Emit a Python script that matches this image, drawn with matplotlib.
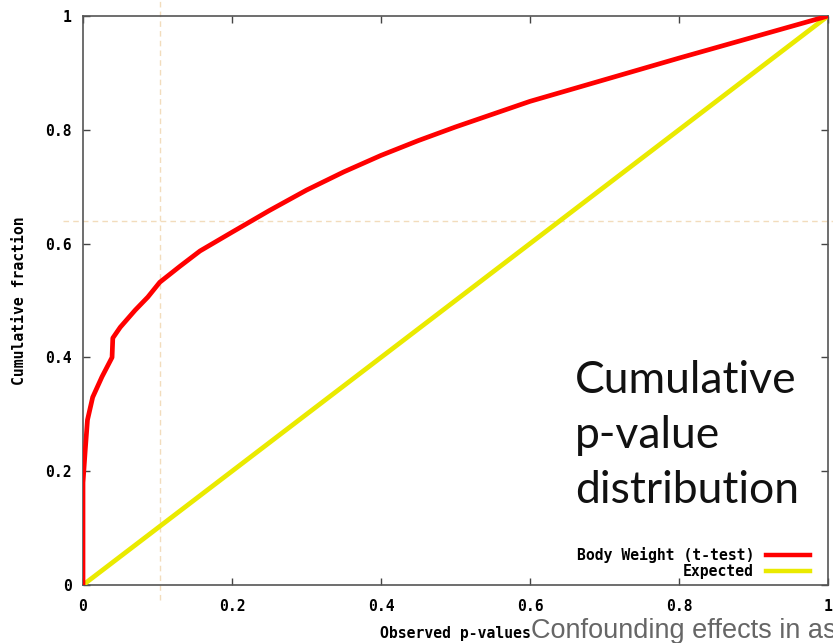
import numpy as np
import matplotlib.pyplot as plt
from matplotlib.lines import Line2D

# observed cumulative p-value distribution
p_obs = [0.0, 0.0, 0.003, 0.006, 0.013, 0.0255, 0.039, 0.040, 0.05, 0.07, 0.087,
         0.103, 0.13, 0.157, 0.2, 0.25, 0.3, 0.35, 0.4, 0.45, 0.5, 0.6, 0.7, 0.8, 0.9, 1.0]
frac_obs = [0.0, 0.18, 0.237, 0.29, 0.33, 0.366, 0.40, 0.434, 0.453, 0.483, 0.506,
            0.532, 0.56, 0.587, 0.62, 0.658, 0.694, 0.726, 0.755, 0.781, 0.805,
            0.85, 0.888, 0.926, 0.963, 1.0]

# expected (uniform) distribution
p_exp = [0.0, 0.1, 0.2, 0.3, 0.4, 0.5, 0.6, 0.7, 0.8, 0.9, 1.0]
frac_exp = [0.0, 0.1, 0.2, 0.3, 0.4, 0.5, 0.6, 0.7, 0.8, 0.9, 1.0]

xticks = [0, 0.2, 0.4, 0.6, 0.8, 1]
xticklabels = ["0", "0.2", "0.4", "0.6", "0.8", "1"]
yticks = [0, 0.2, 0.4, 0.6, 0.8, 1]
yticklabels = ["0", "0.2", "0.4", "0.6", "0.8", "1"]

red = "#ff0000"
yellow = "#eaea00"
tan = "#f2dcbc"
mono = {"family": "DejaVu Sans Mono", "weight": "bold", "size": 10.6}

fig = plt.figure(figsize=(8.33, 6.43), dpi=100)
ax = fig.add_axes([83/833, 58/643, 745/833, 569/643])
ax.patch.set_alpha(0)

ax.plot(p_exp, frac_exp, color=yellow, lw=3.4, solid_capstyle="butt", zorder=3)
ax.plot(p_obs, frac_obs, color=red, lw=3.4, solid_capstyle="butt", zorder=4)

ax.set_xlim(0, 1)
ax.set_ylim(0, 1)
ax.set_xticks(xticks)
ax.set_yticks(yticks)
ax.set_xticklabels(xticklabels, fontdict=mono)
ax.set_yticklabels(yticklabels, fontdict=mono)
ax.tick_params(direction="in", length=5, width=1, color="#444444",
               top=True, right=True)
ax.tick_params(axis="x", pad=10)
ax.tick_params(axis="y", pad=8)
for s in ax.spines.values():
    s.set_color("#555555")
    s.set_linewidth(1.2)

ax.set_xlabel("Observed p-values", fontdict=mono, labelpad=9)
ax.set_ylabel("Cumulative fraction", fontdict=mono, labelpad=13)

# legend in gnuplot style
handles = [Line2D([], [], color=red, lw=3.2), Line2D([], [], color=yellow, lw=3.2)]
leg = ax.legend(handles, ["Body Weight (t-test)", "Expected"], loc="lower right",
                bbox_to_anchor=((810 - 83) / 745, (585 - 579) / 569),
                frameon=False, prop=mono, markerfirst=False, handlelength=3.0,
                labelspacing=0.05, borderaxespad=0, borderpad=0, handletextpad=0.8)
for t in leg.get_texts():
    t.set_ha("right")

# slide annotations
fig.text(575/833, 1 - 393/643, "Cumulative", fontsize=32, family="Lato",
         va="baseline", ha="left", color="#111111")
fig.text(575/833, 1 - 448/643, "p-value", fontsize=32, family="Lato",
         va="baseline", ha="left", color="#111111")
fig.text(575/833, 1 - 503/643, "distribution", fontsize=32, family="Lato",
         va="baseline", ha="left", color="#111111")
fig.text(531/833, 1 - 638/643, "Confounding effects in association studies",
         fontsize=19.5, family="Liberation Sans", color="#666666", va="baseline")

# crosshair guide lines
fig.add_artist(Line2D([160/833, 160/833], [1 - 600/643, 1.0], transform=fig.transFigure,
                      color=tan, lw=1, ls=(0, (4, 3)), zorder=-1))
fig.add_artist(Line2D([63/833, 1.0], [1 - 221/643, 1 - 221/643], transform=fig.transFigure,
                      color=tan, lw=1, ls=(0, (4, 3)), zorder=-1))

fig.savefig("out.png", dpi=100)
